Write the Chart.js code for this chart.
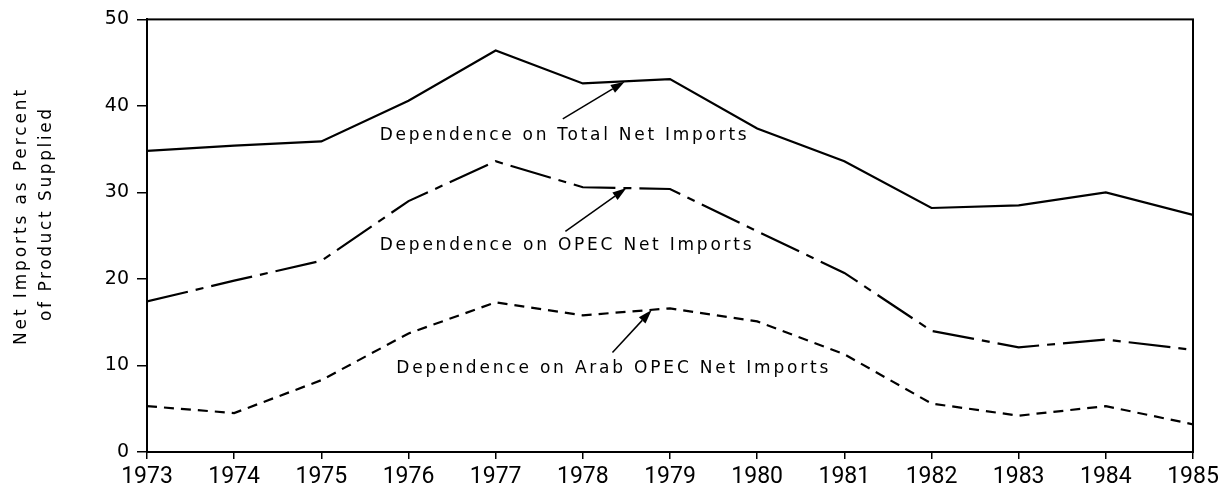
<!DOCTYPE html>
<html>
<head>
<meta charset="utf-8">
<script src="https://cdn.jsdelivr.net/npm/chart.js@4.4.1/dist/chart.umd.min.js"></script>
<style>
  html, body { margin: 0; padding: 0; background: #fff; }
  #wrap { width: 1227px; height: 488px; }
</style>
</head>
<body>
<div id="wrap"><canvas id="chart" width="1227" height="488"></canvas></div>
<script>
// Net imports as percent of product supplied
const years = [1973, 1974, 1975, 1976, 1977, 1978, 1979, 1980, 1981, 1982, 1983, 1984, 1985];
const totalNet = [34.8, 35.4, 35.9, 40.6, 46.4, 42.6, 43.1, 37.4, 33.6, 28.2, 28.5, 30.0, 27.4];
const opecNet = [17.4, 19.8, 22.1, 29.0, 33.6, 30.6, 30.4, 25.5, 20.7, 14.0, 12.1, 13.0, 11.8];
const arabNet = [5.3, 4.5, 8.3, 13.7, 17.3, 15.8, 16.6, 15.1, 11.3, 5.6, 4.2, 5.3, 3.2];
const yTicks = [0, 10, 20, 30, 40, 50];
const yTitle = ["Net Imports as Percent", "of Product Supplied"];

// labels with arrows, placed in data units (year, percent)
const notes = [
  { text: "Dependence on Total Net Imports", at: [1975.67, 36.1], width: 367, tail: [1977.77, 38.5], head: [1978.48, 42.8] },
  { text: "Dependence on OPEC Net Imports", at: [1975.67, 23.4], width: 372, tail: [1977.80, 25.5], head: [1978.50, 30.5] },
  { text: "Dependence on Arab OPEC Net Imports", at: [1975.86, 9.15], width: 432, tail: [1978.34, 11.5], head: [1978.79, 16.4] }
];

const toPoints = vals => years.map((yr, i) => ({ x: yr, y: vals[i] }));

// letter-spaced text fitted to a given width
function spacedText(ctx, text, x, y, width) {
  ctx.letterSpacing = "0px";
  const w = ctx.measureText(text).width;
  const sp = (width - w) / (text.length - 1);
  ctx.letterSpacing = sp.toFixed(2) + "px";
  ctx.fillText(text, x, y);
  ctx.letterSpacing = "0px";
}

const framePlugin = {
  id: "frame",
  afterDatasetsDraw(chart) {
    const { ctx, chartArea: a, scales } = chart;
    ctx.save();
    ctx.strokeStyle = "#000";
    ctx.lineWidth = 2;
    ctx.strokeRect(a.left, a.top, a.right - a.left, a.bottom - a.top);

    // annotations
    ctx.fillStyle = "#000";
    ctx.font = "17px 'DejaVu Sans'";
    ctx.textBaseline = "alphabetic";
    ctx.textAlign = "left";
    notes.forEach(n => {
      const tx = scales.x.getPixelForValue(n.at[0]);
      const ty = scales.y.getPixelForValue(n.at[1]);
      spacedText(ctx, n.text, tx, ty, n.width);

      const x1 = scales.x.getPixelForValue(n.tail[0]), y1 = scales.y.getPixelForValue(n.tail[1]);
      const x2 = scales.x.getPixelForValue(n.head[0]), y2 = scales.y.getPixelForValue(n.head[1]);
      const ang = Math.atan2(y2 - y1, x2 - x1);
      const len = 14, half = 4.5;
      const bx = x2 - len * Math.cos(ang), by = y2 - len * Math.sin(ang);
      ctx.lineWidth = 1.5;
      ctx.beginPath();
      ctx.moveTo(x1, y1);
      ctx.lineTo(bx, by);
      ctx.stroke();
      ctx.beginPath();
      ctx.moveTo(x2, y2);
      ctx.lineTo(bx + half * Math.sin(ang), by - half * Math.cos(ang));
      ctx.lineTo(bx - half * Math.sin(ang), by + half * Math.cos(ang));
      ctx.closePath();
      ctx.fill();
    });

    // y axis title, two rotated lines
    ctx.font = "17px 'DejaVu Sans'";
    ctx.textAlign = "left";
    const titleLines = [{ base: 26, top: 345, len: 255 }, { base: 51, top: 321, len: 212 }];
    titleLines.forEach((t, i) => {
      ctx.save();
      ctx.translate(t.base, t.top);
      ctx.rotate(-Math.PI / 2);
      spacedText(ctx, yTitle[i], 0, 0, t.len);
      ctx.restore();
    });
    ctx.restore();
  }
};

new Chart(document.getElementById("chart"), {
  type: "line",
  data: {
    datasets: [
      {
        label: "Dependence on Total Net Imports",
        data: toPoints(totalNet),
        borderColor: "#000",
        borderWidth: 2.2,
        pointRadius: 0,
        tension: 0
      },
      {
        label: "Dependence on OPEC Net Imports",
        data: toPoints(opecNet),
        borderColor: "#000",
        borderWidth: 2.2,
        borderDash: [42, 8, 8, 8],
        pointRadius: 0,
        tension: 0
      },
      {
        label: "Dependence on Arab OPEC Net Imports",
        data: toPoints(arabNet),
        borderColor: "#000",
        borderWidth: 2.2,
        borderDash: [10, 7],
        pointRadius: 0,
        tension: 0
      }
    ]
  },
  options: {
    responsive: false,
    animation: false,
    devicePixelRatio: 1,
    layout: { padding: { top: 16, right: 34, left: 0, bottom: 0 } },
    plugins: {
      legend: { display: false },
      tooltip: { enabled: false }
    },
    scales: {
      x: {
        type: "linear",
        min: years[0],
        max: years[years.length - 1],
        afterBuildTicks: s => { s.ticks = years.map(v => ({ value: v })); },
        afterFit: s => { s.height = 36; },
        ticks: {
          color: "#000",
          font: { family: "Roboto", size: 23 },
          padding: 4,
          maxRotation: 0,
          autoSkip: false,
          callback: v => String(v)
        },
        grid: { drawOnChartArea: false, drawTicks: true, tickLength: 7, color: "#000", lineWidth: 1.5 },
        border: { display: true, color: "#000", width: 2 }
      },
      y: {
        min: 0,
        max: 50,
        afterBuildTicks: s => { s.ticks = yTicks.map(v => ({ value: v })); },
        afterFit: s => { s.width = 147; },
        ticks: {
          color: "#000",
          font: { family: "'DejaVu Sans'", size: 19 },
          padding: 8
        },
        grid: { drawOnChartArea: false, drawTicks: true, tickLength: 10, color: "#000", lineWidth: 1.5 },
        border: { display: true, color: "#000", width: 2 }
      }
    }
  },
  plugins: [framePlugin]
});
</script>
</body>
</html>
